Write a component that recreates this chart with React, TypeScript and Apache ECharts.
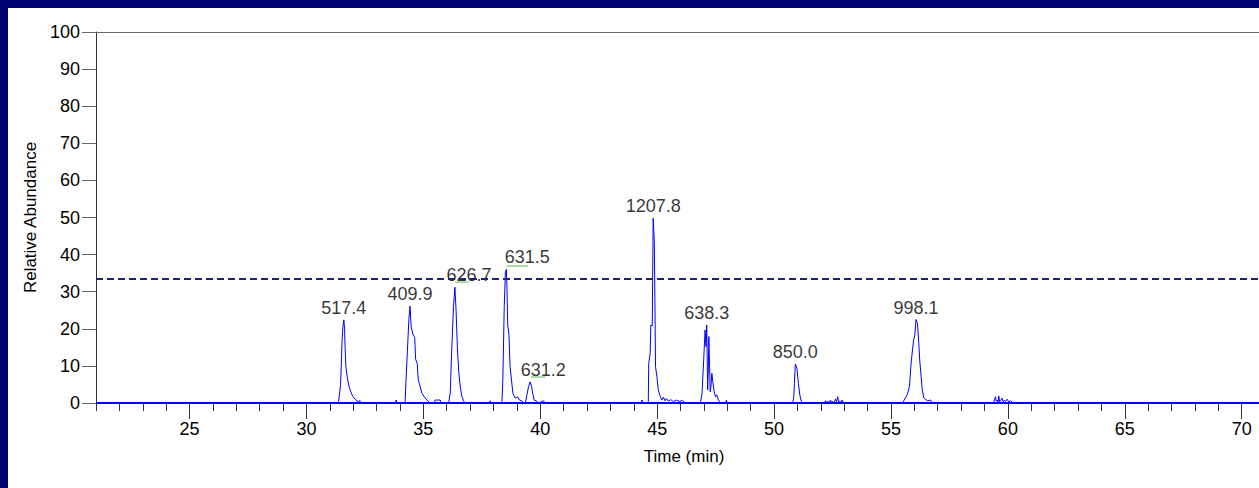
import React, { useEffect, useRef } from "react";
import * as echarts from "echarts";

// ---- axis ticks ----
const xMin = 21;
const xMax = 70.74;
const xMinorTicks = [21, 22, 23, 24, 25, 26, 27, 28, 29, 30, 31, 32, 33, 34, 35, 36, 37, 38, 39, 40, 41, 42, 43, 44, 45, 46, 47, 48, 49, 50, 51, 52, 53, 54, 55, 56, 57, 58, 59, 60, 61, 62, 63, 64, 65, 66, 67, 68, 69, 70];
const xMajorTicks = [25, 30, 35, 40, 45, 50, 55, 60, 65, 70];

// ---- chromatogram trace segments [time (min), relative abundance] ----
const baselineStart = [[21, 0]];
const blip338 = [[31.2, 0]];
const trace517 = [[31.37, 0], [31.46, 5], [31.53, 17.5], [31.56, 20.5], [31.6, 22.4], [31.63, 20.0], [31.66, 14], [31.69, 9.5], [31.75, 6.8], [31.82, 4.5], [31.9, 3.0], [31.98, 1.8], [32.1, 0.9], [32.22, 0.3], [32.28, 0.7], [32.32, 0]];
const noise338 = [[33.81, 0], [33.84, 0.8], [33.87, 0]];
const trace410 = [[34.22, 0], [34.26, 6.2], [34.34, 17], [34.38, 22.4], [34.43, 26.1], [34.48, 20.5], [34.55, 18.6], [34.63, 17.6], [34.67, 11.8], [34.74, 10.6], [34.78, 6.4], [34.83, 5.2], [34.94, 2.6], [35.04, 1.7], [35.15, 0.8], [35.29, 0]];
const noise355 = [[35.47, 0], [35.5, 0.8], [35.72, 0.8], [35.75, 0]];
const trace627 = [[36.08, 0], [36.15, 2.6], [36.22, 15.2], [36.29, 26], [36.35, 31.2], [36.4, 25], [36.46, 14.3], [36.52, 8], [36.58, 4.4], [36.65, 1.7], [36.72, 0.6], [36.79, 0]];
const noise379 = [[37.83, 0], [37.86, 0.6], [37.89, 0]];
const trace632 = [[38.36, 0], [38.4, 6.2], [38.46, 26], [38.51, 35.4], [38.55, 36.0], [38.58, 30], [38.61, 21], [38.66, 18.5], [38.71, 9.8], [38.77, 6.2], [38.83, 2.6], [38.93, 1.3], [39.03, 1.7], [39.11, 0.8], [39.21, 0.6], [39.28, 0]];
const trace631 = [[39.36, 0], [39.43, 2.2], [39.5, 4.4], [39.57, 5.7], [39.63, 4.4], [39.69, 2.2], [39.74, 0.8], [39.83, 0.6], [39.93, 0], [40.14, 0.6], [40.21, 0]];
const noise443 = [[44.32, 0], [44.35, 0.8], [44.38, 0]];
const trace1208 = [[44.62, 0], [44.64, 10.7], [44.7, 13.4], [44.73, 21], [44.79, 20.8], [44.83, 49.8], [44.88, 43], [44.93, 9.8], [44.99, 7.1], [45.05, 3.5], [45.12, 2.0], [45.2, 0.8], [45.27, 1.6], [45.33, 0.6], [45.4, 1.2], [45.48, 0.5], [45.58, 0.9], [45.7, 0.4], [45.82, 0.8], [45.95, 0.4], [46.08, 0.7], [46.2, 0]];
const trace638 = [[46.85, 0], [46.92, 2.6], [46.99, 11.6], [47.05, 19.7], [47.09, 15.2], [47.12, 21.0], [47.16, 3.5], [47.19, 9.8], [47.21, 17.9], [47.24, 17.9], [47.27, 3.0], [47.3, 4.4], [47.34, 8.0], [47.38, 5.7], [47.44, 3.0], [47.49, 1.7], [47.55, 2.2], [47.62, 0.8], [47.7, 0]];
const noise479 = [[47.93, 0], [47.96, 0.8], [47.99, 0]];
const trace850 = [[50.79, 0], [50.84, 1.3], [50.87, 5.3], [50.91, 10.5], [50.94, 10.0], [50.98, 9.3], [51.04, 5.3], [51.1, 2.2], [51.15, 0.8], [51.21, 0]];
const noise525 = [[52.17, 0], [52.19, 0.6], [52.24, 0.2], [52.3, 0.5], [52.36, 0], [52.41, 0.8], [52.46, 0.2], [52.52, 0.4], [52.58, 0], [52.62, 1.0], [52.67, 0.4], [52.72, 1.7], [52.76, 0.3], [52.8, 0.5], [52.86, 0.2], [52.91, 0.8], [52.98, 0]];
const trace998 = [[55.5, 0], [55.55, 0.6], [55.69, 2.2], [55.79, 4.4], [55.86, 10.7], [55.92, 14.3], [55.97, 17.0], [56.02, 18.3], [56.07, 22.5], [56.13, 21.5], [56.19, 16.1], [56.23, 11.6], [56.29, 7.1], [56.34, 3.5], [56.4, 1.5], [56.47, 1.0], [56.57, 0.6], [56.69, 0.8], [56.76, 0]];
const noise597 = [[59.38, 0], [59.4, 0.3], [59.47, 1.7], [59.5, 0.5], [59.54, 0.8], [59.58, 0.2], [59.61, 1.9], [59.65, 0.3], [59.68, 0.6], [59.75, 1.3], [59.8, 0.3], [59.85, 0.8], [59.9, 0.4], [59.97, 1.0], [60.04, 0.3], [60.11, 0.6], [60.22, 0]];
const baselineEnd = [[70.74, 0]];

// ---- labelled peaks (apex time, apex abundance, m/z label) ----
const peakTimes = [31.6, 34.43, 36.35, 38.55, 39.57, 44.83, 47.12, 50.91, 56.07];
const peakValues = [22.4, 26.1, 31.2, 36.0, 5.7, 49.8, 21.0, 10.5, 22.5];
const peakLabels = ["517.4", "409.9", "626.7", "631.5", "631.2", "1207.8", "638.3", "850.0", "998.1"];

// ---- threshold and annotation marks ----
const thresholdLevel = 33.4;
const underlineStart = [[36.36, 32.6], [38.57, 37.1], [39.61, 7.1]];
const underlineEnd = [[36.96, 32.6], [39.47, 37.1], [40.21, 7.1]];

const FONT = "'Liberation Sans', Arial, Helvetica, sans-serif";

export default function App() {
  const ref = useRef<HTMLDivElement>(null);

  useEffect(() => {
    document.body.style.margin = "8px 0 0 8px";
    document.body.style.background = "#000072";
    document.body.style.overflow = "hidden";
    if (!ref.current) return;
    const chart = echarts.init(ref.current, null, { renderer: "svg" });

    const trace = [
      ...baselineStart, ...blip338, ...trace517, ...noise338, ...trace410, ...noise355,
      ...trace627, ...noise379, ...trace632, ...trace631, ...noise443, ...trace1208,
      ...trace638, ...noise479, ...trace850, ...noise525, ...trace998, ...noise597,
      ...baselineEnd,
    ];

    const labelShift: Record<string, number> = { "626.7": 14, "631.5": 21, "631.2": 13 };

    const peaks = peakTimes.map((t, i) => ({
      value: [t, peakValues[i]],
      name: peakLabels[i],
      label: { offset: [labelShift[peakLabels[i]] || 0, 0] },
    }));

    const underlines = underlineStart.map((s, i) => [
      { coord: s },
      { coord: underlineEnd[i] },
    ]);

    const option: any = {
      animation: false,
      backgroundColor: "#ffffff",
      textStyle: { fontFamily: FONT },
      grid: { left: 88, top: 24, right: 0, bottom: 85 },
      xAxis: [
        {
          type: "value",
          min: xMin,
          max: xMax,
          position: "bottom",
          offset: 2,
          axisLine: { show: true, lineStyle: { color: "#000000", width: 1 } },
          axisTick: { show: true, customValues: xMinorTicks, length: 8, lineStyle: { color: "#333333" } },
          axisLabel: { show: true, customValues: xMajorTicks, fontSize: 18, color: "#000000", margin: 15, fontFamily: FONT },
          splitLine: { show: false },
          name: "Time (min)",
          nameLocation: "middle",
          nameGap: 43,
          nameTextStyle: { fontSize: 17, color: "#000000", fontFamily: FONT, padding: [0, 0, 0, 13] },
        },
        {
          type: "value",
          min: xMin,
          max: xMax,
          position: "bottom",
          offset: 2,
          axisLine: { show: false },
          axisTick: { show: true, customValues: xMajorTicks, length: 14, lineStyle: { color: "#333333" } },
          axisLabel: { show: false },
          splitLine: { show: false },
        },
        {
          type: "value",
          min: xMin,
          max: xMax,
          position: "top",
          axisLine: { show: true, lineStyle: { color: "#666666", width: 1 } },
          axisTick: { show: false },
          axisLabel: { show: false },
          splitLine: { show: false },
        },
      ],
      yAxis: {
        type: "value",
        min: 0,
        max: 100,
        interval: 10,
        axisLine: { show: true, lineStyle: { color: "#333333", width: 1 } },
        axisTick: { show: true, length: 14, lineStyle: { color: "#666666" } },
        axisLabel: { fontSize: 18, color: "#000000", margin: 16, fontFamily: FONT },
        splitLine: { show: false },
        name: "Relative Abundance",
        nameLocation: "middle",
        nameGap: 50,
        nameRotate: 90,
        nameTextStyle: { fontSize: 17, color: "#000000", fontFamily: FONT },
      },
      series: [
        {
          type: "line",
          data: trace,
          showSymbol: false,
          symbol: "none",
          lineStyle: { color: "#0000ff", width: 1 },
          z: 3,
          markLine: {
            silent: true,
            symbol: ["none", "none"],
            label: { show: false },
            data: [
              { yAxis: 0, lineStyle: { color: "#0000ff", width: 2, type: "solid" } },
              { yAxis: thresholdLevel, lineStyle: { color: "#202070", width: 2, type: [7, 4] } },
              ...underlines.map((u) => [
                { ...u[0], lineStyle: { color: "#8fd08f", width: 1.5, type: "solid" } },
                u[1],
              ]),
            ],
          },
        },
        {
          type: "scatter",
          data: peaks,
          symbolSize: 0,
          z: 4,
          label: {
            show: true,
            position: "top",
            distance: 3,
            formatter: (p: any) => p.name,
            fontSize: 18,
            color: "#000000",
            fontFamily: FONT,
          },
        },
      ],
    };

    chart.setOption(option);
    return () => chart.dispose();
  }, []);

  return <div ref={ref} style={{ width: 1251, height: 480, background: "#ffffff" }} />;
}
